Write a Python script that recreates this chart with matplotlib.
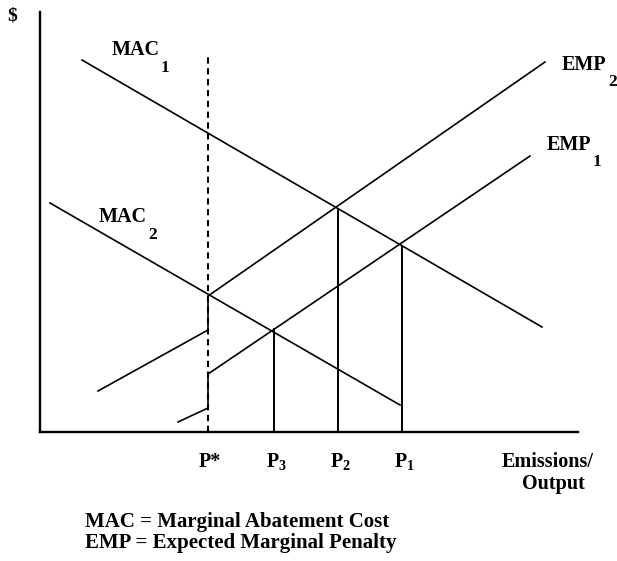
import numpy as np
import matplotlib
matplotlib.use("Agg")
import matplotlib.pyplot as plt

# curves (x = emissions/output, y = $)
mac1_x = [4.2, 50.2]
mac1_y = [37.2, 10.5]
mac2_x = [1.0, 36.0]
mac2_y = [22.9, 2.7]
# EMP curves jump at the standard P*
emp2_x = [5.8, 16.8, 16.8, 50.5]
emp2_y = [4.1, 10.2, 13.6, 37.0]
emp1_x = [13.8, 16.8, 16.8, 49.0]
emp1_y = [1.0, 2.4, 5.8, 27.6]

p_star = 16.8
p_star_top = 37.6
p_labels = ["P*", "P$_3$", "P$_2$", "P$_1$"]
p_vals = [16.8, 23.4, 29.8, 36.2]

W, H = 617, 561
fig = plt.figure(figsize=(W / 100, H / 100), dpi=100)
ax = fig.add_axes([40 / W, (H - 432) / H, (578 - 40) / W, (432 - 12) / H])
ax.set_xlim(0, 53.8)
ax.set_ylim(0, 42)

plt.rcParams['mathtext.fontset'] = 'custom'
plt.rcParams['mathtext.rm'] = 'Liberation Serif:bold'
plt.rcParams['mathtext.it'] = 'Liberation Serif:bold'
plt.rcParams['mathtext.bf'] = 'Liberation Serif:bold'
font = dict(family="Liberation Serif", fontweight="bold", color="black")

lw = 1.2
ax.plot(mac1_x, mac1_y, color="black", lw=lw)
ax.plot(mac2_x, mac2_y, color="black", lw=lw)
ax.plot(emp2_x, emp2_y, color="black", lw=lw)
ax.plot(emp1_x, emp1_y, color="black", lw=lw)
ax.plot([p_star, p_star], [0, p_star_top], color="black", lw=1.5,
        linestyle=(0, (3, 2.2)))

# drop lines from the intersections
ax.plot([p_vals[1]] * 2, [0, np.interp(p_vals[1], emp1_x[2:], emp1_y[2:])], color="black", lw=1.4)
ax.plot([p_vals[2]] * 2, [0, np.interp(p_vals[2], mac1_x, mac1_y)], color="black", lw=1.4)
ax.plot([p_vals[3]] * 2, [0, np.interp(p_vals[3], mac1_x, mac1_y)], color="black", lw=1.4)

for s in ["top", "right"]:
    ax.spines[s].set_visible(False)
for s in ["left", "bottom"]:
    ax.spines[s].set_linewidth(1.7)
ax.set_xticks([])
ax.set_yticks([])

for lab, xv in zip(p_labels, p_vals):
    ax.text(xv + 0.2, -3.0, lab, ha="center", va="center", fontsize=14.5, **font)

# curve labels
ax.text(9.6, 38.2, "MAC", ha="center", va="center", fontsize=14.5, clip_on=False, **font)
ax.text(12.5, 36.4, "1", ha="center", va="center", fontsize=12.5, clip_on=False, **font)
ax.text(8.3, 21.5, "MAC", ha="center", va="center", fontsize=14.5, clip_on=False, **font)
ax.text(11.3, 19.7, "2", ha="center", va="center", fontsize=12.5, clip_on=False, **font)
ax.text(54.4, 36.7, "EMP", ha="center", va="center", fontsize=14.5, clip_on=False, **font)
ax.text(57.3, 35.0, "2", ha="center", va="center", fontsize=12.5, clip_on=False, **font)
ax.text(52.9, 28.7, "EMP", ha="center", va="center", fontsize=14.5, clip_on=False, **font)
ax.text(55.7, 27.0, "1", ha="center", va="center", fontsize=12.5, clip_on=False, **font)

fig.text(12 / W, 1 - 16 / H, "$", ha="center", va="center", fontsize=14, **font)
fig.text(548 / W, 1 - 462 / H, "Emissions/", ha="center", va="center", fontsize=14.5, **font)
fig.text(553 / W, 1 - 484 / H, "Output", ha="center", va="center", fontsize=14.5, **font)

fig.text(85 / W, 1 - 522 / H, "MAC = Marginal Abatement Cost", ha="left", va="center", fontsize=15, **font)
fig.text(85 / W, 1 - 543 / H, "EMP = Expected Marginal Penalty", ha="left", va="center", fontsize=15, **font)

fig.savefig("out.png", dpi=100)
